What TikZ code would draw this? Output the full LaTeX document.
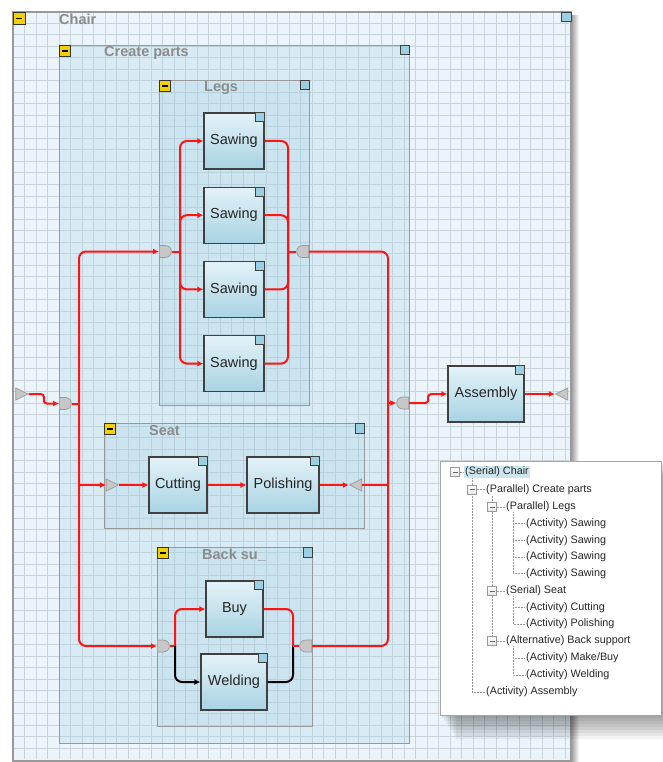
\documentclass[tikz,border=0pt]{standalone}
\usepackage{fontspec}
\setmainfont{Liberation Sans}
\usetikzlibrary{arrows.meta,positioning,shapes.geometric,shapes.misc,calc}

\definecolor{gridbg}{HTML}{EAF4FA}
\definecolor{gridln}{HTML}{C8D4DA}
\definecolor{grpfill}{HTML}{A2D0E4}
\definecolor{boxtop}{HTML}{E4F2F8}
\definecolor{boxbot}{HTML}{A8D3E3}
\definecolor{tagblue}{HTML}{9CCFE1}
\definecolor{minusyel}{HTML}{F4CF00}
\definecolor{flowred}{HTML}{FF1414}
\definecolor{treesel}{HTML}{CCE5EF}

\begin{document}
\begin{tikzpicture}[x=1pt, y=-1pt,
  >={Latex[length=6pt,width=6pt]},
  lbl/.style={font=\fontsize{14.5}{17}\selectfont, text=black!85},
  act/.style={lbl, draw=black!75, line width=1.2pt, top color=boxtop, bottom color=boxbot, inner sep=0pt, minimum height=56pt},
  grp/.style={draw=black!40, line width=0.9pt, fill=grpfill, fill opacity=0.24, anchor=north west, inner sep=0pt},
  grptitle/.style={font=\bfseries\fontsize{14.5}{17}\selectfont, text=black!45, anchor=west, inner sep=0pt},
  minus/.style={draw=black!80, line width=0.8pt, fill=minusyel, minimum size=11pt, inner sep=0pt, anchor=north west,
    path picture={\draw[black, line width=1.3pt] ([xshift=-3pt]path picture bounding box.center) -- ([xshift=3pt]path picture bounding box.center);}},
  tag/.style={draw=black!75, line width=0.9pt, fill=tagblue, minimum size=9.5pt, inner sep=0pt, anchor=north east},
  gate/.style={rounded rectangle, draw=black!40, line width=0.7pt, fill=black!22, minimum width=12pt, minimum height=12pt, inner sep=0pt},
  splitgate/.style={gate, rounded rectangle west arc=none, anchor=west},
  joingate/.style={gate, rounded rectangle east arc=none, anchor=east},
  port/.style={isosceles triangle, isosceles triangle stretches, draw=black!40, line width=0.7pt, fill=black!22, minimum width=12pt, minimum height=12pt, inner sep=0pt},
  flow/.style={draw=flowred, line width=2pt, rounded corners=7pt},
  altflow/.style={flow, draw=black},
  tree/.style={font=\fontsize{10.8}{13}\selectfont, text=black!85, anchor=west, inner sep=1pt},
  treeline/.style={draw=black!40, densely dotted, line width=0.5pt},
  expander/.style={draw=black!40, top color=white, bottom color=black!10, minimum size=9pt, inner sep=0pt,
    path picture={\draw[black!60, line width=0.8pt] ([xshift=-2.5pt]path picture bounding box.center) -- ([xshift=2.5pt]path picture bounding box.center);}}
]
  \useasboundingbox (0,0) rectangle (663,762);
  \fill[white] (0,0) rectangle (663,762);

  \shade[left color=black!45, right color=white] (570,16) rectangle (579,762);
  \node[draw=black!40, line width=1.4pt, fill=gridbg, minimum width=557pt, minimum height=748pt, anchor=north west, inner sep=0pt] (chair) at (13,12) {};
  \foreach \gx in {1,...,48}
    \draw[gridln, line width=1pt] (13+\gx*11.5,13) -- (13+\gx*11.5,759);
  \foreach \gy in {1,...,64}
    \draw[gridln, line width=1pt] (14,12+\gy*11.5) -- (569,12+\gy*11.5);
  \draw[black!40, line width=1.4pt] (chair.north west) rectangle (chair.south east);

  \node[grp, minimum width=350pt, minimum height=698pt] (create) at (59,45) {};
  \node[grp, minimum width=150pt, minimum height=325pt] (legs) at (159,80) {};
  \node[grp, minimum width=260pt, minimum height=105pt] (seat) at (104,423) {};
  \node[grp, minimum width=155pt, minimum height=179pt] (back) at (157,547) {};

  \node[minus, minimum size=12pt] (chair-min) at (chair.north west) {};
  \node[tag] (chair-tag) at (chair.north east) {};
  \node[grptitle] (chair-title) at (59,19) {Chair};
  \foreach \g/\t in {create/Create parts, legs/Legs, seat/Seat, back/Back su\_} {
    \node[minus] (\g-min) at (\g.north west) {};
    \node[tag] (\g-tag) at (\g.north east) {};
    \node[grptitle] (\g-title) at ([xshift=45pt,yshift=-8pt]\g.north west) {\t};
  }

  \node[act, minimum width=60pt] (saw1) at (234,141) {Sawing};
  \node[act, minimum width=60pt, below=17pt of saw1] (saw2) {Sawing};
  \node[act, minimum width=60pt, below=17pt of saw2] (saw3) {Sawing};
  \node[act, minimum width=60pt, below=17pt of saw3] (saw4) {Sawing};
  \node[act, minimum width=58pt] (cutting) at (178,485) {Cutting};
  \node[act, minimum width=72pt] (polishing) at (283,485) {Polishing};
  \node[act, minimum width=57pt] (buy) at (234.5,609) {Buy};
  \node[act, minimum width=66pt] (welding) at (234,682) {Welding};
  \node[act, minimum width=76pt] (assembly) at (486,394) {Assembly};
  \foreach \a in {saw1,saw2,saw3,saw4,cutting,polishing,buy,welding,assembly}
    \node[tag, minimum size=9pt] (\a-tag) at (\a.north east) {};

  \node[splitgate] (cp-split) at (59,403.5) {};
  \node[joingate] (cp-join) at (409,403) {};
  \node[splitgate] (lg-split) at (159,251.5) {};
  \node[joingate] (lg-join) at (309,251.5) {};
  \node[splitgate] (bs-split) at (157,646) {};
  \node[joingate] (bs-join) at (312,646) {};
  \node[port] (chair-in) at (19.5,394) {};
  \node[port, shape border rotate=180] (chair-out) at (564,394) {};
  \node[port] (seat-in) at (110,485) {};
  \node[port, shape border rotate=180] (seat-out) at (358,485) {};

  \coordinate (cpL) at (79,403.5);
  \coordinate (cpR) at (388,403);
  \coordinate (lgL) at (180,251.5);
  \coordinate (lgR) at (288,251.5);
  \coordinate (bsL) at (175,646);
  \coordinate (bsR) at (293,646);

  \draw[flow, rounded corners=3pt, ->] (chair-in.apex) -| ($(chair-in.apex)!.5!(cp-split.west)$) |- (cp-split.west);
  \draw[flow] (cp-split.east) -- (cpL);
  \draw[flow, ->] (cpL) |- (lg-split.west);
  \draw[flow, ->] (cpL) |- (bs-split.west);
  \draw[flow, ->] (cpL |- seat-in) -- (seat-in.west);
  \draw[flow, ->] (seat-in.apex) -- (cutting);
  \draw[flow, ->] (cutting) -- (polishing);
  \draw[flow, ->] (polishing) -- (seat-out.apex);
  \draw[flow] (seat-out.east) -- (cpR |- seat-out);
  \draw[flow] (lg-join.east) -| (cpR);
  \draw[flow] (bs-join.east) -| (cpR);
  \draw[flow, ->] (cpR) -- (cp-join.west);
  \draw[flow, rounded corners=3pt, ->] (cp-join.east) -| ($(cp-join.east)!.5!(assembly.west)$) |- (assembly.west);
  \draw[flow, ->] (assembly.east) -- (chair-out.apex);

  \draw[flow] (lg-split.east) -- (lgL);
  \foreach \s in {saw1,saw2,saw3,saw4} {
    \draw[flow, ->] (lgL) |- (\s.west);
    \draw[flow] (\s.east) -| (lgR);
  }
  \draw[flow] (lgR) -- (lg-join.west);

  \draw[flow] (bs-split.east) -- (bsL);
  \draw[flow, ->] (bsL) |- (buy.west);
  \draw[altflow, ->] (bsL) |- (welding.west);
  \draw[flow] (buy.east) -| (bsR);
  \draw[altflow] (welding.east) -| (bsR);
  \draw[flow] (bsR) -- (bs-join.west);

  \foreach \d in {2,4,...,16}
    \fill[black, opacity=0.05] (440+\d,461+\d) rectangle (661+\d,715+1.5*\d);
  \node[draw=black!35, fill=white, minimum width=221pt, minimum height=254pt, anchor=north west, inner sep=0pt] (treeview) at (440,461) {};

  \node[tree, fill=treesel] (t-chair) at (464,472) {(Serial) Chair};
  \node[tree] (t-create) at (485,489.5) {(Parallel) Create parts};
  \node[tree] (t-legs) at (505,507) {(Parallel) Legs};
  \node[tree] (t-saw1) at (525,523.5) {(Activity) Sawing};
  \node[tree] (t-saw2) at (525,540.5) {(Activity) Sawing};
  \node[tree] (t-saw3) at (525,557) {(Activity) Sawing};
  \node[tree] (t-saw4) at (525,573.5) {(Activity) Sawing};
  \node[tree] (t-seat) at (505,591) {(Serial) Seat};
  \node[tree] (t-cut) at (525,607.5) {(Activity) Cutting};
  \node[tree] (t-pol) at (525,624) {(Activity) Polishing};
  \node[tree] (t-back) at (505,641) {(Alternative) Back support};
  \node[tree] (t-make) at (525,658) {(Activity) Make/Buy};
  \node[tree] (t-weld) at (525,675) {(Activity) Welding};
  \node[tree] (t-assembly) at (485,692) {(Activity) Assembly};

  \node[expander] (e-chair) at (455,472) {};
  \node[expander] (e-create) at (472,489.5) {};
  \node[expander] (e-legs) at (492,507) {};
  \node[expander] (e-seat) at (492,591) {};
  \node[expander] (e-back) at (492,641) {};
  \coordinate (legsrail) at (513,512);
  \coordinate (seatrail) at (513,596);
  \coordinate (backrail) at (513,646);

  \draw[treeline] (e-chair.east) -- (t-chair.west);
  \draw[treeline] (e-create |- t-chair.south) -- (e-create.north);
  \draw[treeline] (e-create.south) |- (t-assembly.west);
  \draw[treeline] (e-create.east) -- (t-create.west);
  \draw[treeline] (e-legs |- t-create.south) -- (e-legs.north);
  \draw[treeline] (e-legs.south) -- (e-seat.north);
  \draw[treeline] (e-seat.south) -- (e-back.north);
  \foreach \e/\t in {e-legs/t-legs, e-seat/t-seat, e-back/t-back}
    \draw[treeline] (\e.east) -- (\t.west);
  \draw[treeline] (legsrail) |- (t-saw4.west);
  \foreach \t in {t-saw1,t-saw2,t-saw3}
    \draw[treeline] (legsrail |- \t.west) -- (\t.west);
  \draw[treeline] (seatrail) |- (t-pol.west);
  \draw[treeline] (seatrail |- t-cut.west) -- (t-cut.west);
  \draw[treeline] (backrail) |- (t-weld.west);
  \draw[treeline] (backrail |- t-make.west) -- (t-make.west);
\end{tikzpicture}
\end{document}
